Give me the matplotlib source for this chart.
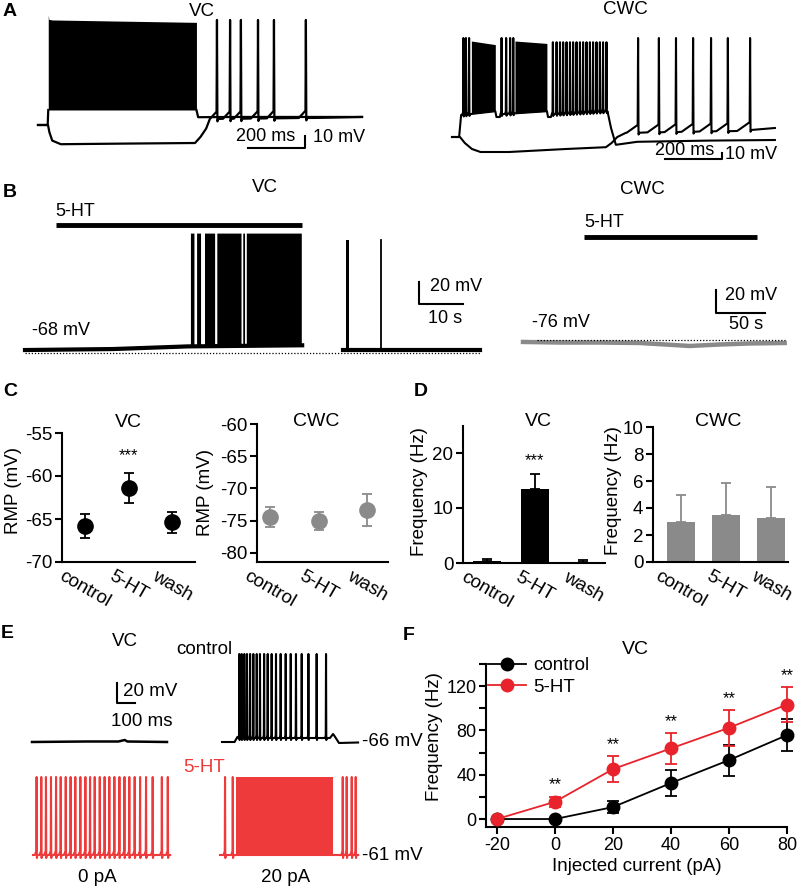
import numpy as np
import matplotlib.pyplot as plt
from matplotlib.lines import Line2D

plt.rcParams['font.family'] = ['Liberation Sans', 'DejaVu Sans']
plt.rcParams['font.size'] = 13
plt.rcParams['axes.linewidth'] = 1.5
plt.rcParams['axes.unicode_minus'] = False

W, H = 800, 889
RED = '#ee3a3a'
RED_F = '#e8232b'
GRAY = '#8a8a8a'

# ---------------- A: step responses (t in ms, v in mV re. rest) ----------------
a_vc_pre_t = [0, 34, 36]
a_vc_pre_v = [0, 0, 12.5]
a_vc_block_t = [36, 38, 50, 300, 556]
a_vc_block_top = [91.7, 88, 87.5, 86.5, 85.5]
a_vc_block_bot = [12.5, 12.5, 12.5, 12.5, 12.5]
a_vc_post_t = [556, 562, 700, 1000, 1137]
a_vc_post_v = [12.5, 6.5, 6.7, 6.7, 6.7]
a_vc_hyp_t = [0, 35, 40, 50, 80, 300, 551, 570, 590, 614, 1000, 1137]
a_vc_hyp_v = [0, 0, -6, -13, -16, -15.5, -15, -10, -3, 5, 6, 6.7]
a_vc_rebound = [628, 674, 712, 772, 828, 940]

a_cwc_dep_t = [0, 25, 32, 152, 156, 168, 172, 333, 337, 347, 352, 545, 558, 575, 650, 900, 1133]
a_cwc_dep_v = [0, 0, 36.7, 43, 33.3, 33.3, 38, 43, 33.3, 33.3, 38, 43, 15, -13, -8, -6, -5]
a_cwc_lead = [40, 49, 60, 174, 190, 204, 215]
a_cwc_burst3 = [354, 367, 379, 390, 402, 414, 425, 437, 449, 460, 472, 484,
                495, 507, 519, 530, 542]
a_cwc_dense = [(68, 152), (221, 333)]
a_cwc_dense_top = [(160, 154), (160, 156)]
a_cwc_hyp_t = [0, 28, 45, 70, 100, 200, 400, 540, 560, 580, 610, 640, 1000, 1133]
a_cwc_hyp_v = [0, 0, -10, -20, -25, -25, -20, -17, -10, 0, 7, 7, 10, 15]
a_cwc_rebound = [653, 726, 786, 846, 909, 968, 1046]

# ---------------- B: 5-HT application (t in s, v in mV) ----------------
b_vc_base1_t = [0, 20, 37, 63]
b_vc_base1_v = [-65.3, -64.4, -62, -61]
b_vc_bursts = [(37.6, 38.4), (39.0, 39.9), (40.8, 43.1), (43.6, 49.1), (49.5, 49.9), (50.3, 62.8)]
b_vc_base2_t = [72.3, 103.4]
b_vc_base2_v = [-65.3, -65.3]
b_vc_wash_burst = (72.9, 73.6)
b_vc_wash_spike = 80.9
b_vc_drug = (7.0, 63.0)

b_cwc_t = [0, 37.8, 78.6, 119, 145, 170, 201, 232, 267]
b_cwc_v = [-77.7, -78.2, -78.2, -78.6, -79.9, -81.2, -79.9, -79, -78.6]
b_cwc_drug = (62.2, 238.8)

# ---------------- C: resting membrane potential ----------------
groups = ['control', '5-HT', 'wash']
c_vc_mean = [-65.8, -61.4, -65.4]
c_vc_err = [1.4, 1.7, 1.2]
c_cwc_mean = [-74.4, -75.0, -73.3]
c_cwc_err = [1.5, 1.4, 2.5]

# ---------------- D: spontaneous firing ----------------
d_vc_mean = [0.3, 13.4, 0.15]
d_vc_err = [0.5, 2.7, 0.35]
d_cwc_mean = [3.0, 3.45, 3.25]
d_cwc_err = [1.95, 2.4, 2.3]

# ---------------- E: example traces (t in ms, v in mV) ----------------
e_ctrl0_t = [0, 300, 480, 515, 530, 750]
e_ctrl0_v = [-66, -65.5, -65.5, -64, -65.5, -66]
e_ctrl20_t = [0, 70, 85, 96, 578, 600, 617, 625, 650, 756]
e_ctrl20_v = [-66, -66, -61, -62, -62, -62, -58, -60, -67, -66.5]
e_ctrl20_spikes = [96, 109, 124, 139, 156, 174, 193, 211, 234, 254, 276, 300,
                   326, 354, 382, 411, 443, 480, 526, 578]
e_ht0_spikes = [20, 46, 72, 100, 128, 154, 182, 209, 235, 263, 291, 317, 343,
                371, 398, 424, 452, 480, 508, 535, 565, 595, 628, 665, 716, 749]
e_ht20_spikes = [28, 71, 682, 704, 732, 754]
e_ht20_dense = (89, 630)

# ---------------- F: f-I curve ----------------
f_current = [-20, 0, 20, 40, 60, 80]
f_ctrl = [0, 0, 10.8, 32.5, 53.2, 75.8]
f_ctrl_err = [0, 0, 5.5, 12, 14, 14.5]
f_ht = [0, 15.6, 45.1, 63.8, 82.4, 103.4]
f_ht_err = [0, 4.5, 11.7, 14, 16, 16]

fig = plt.figure(figsize=(W / 100, H / 100), dpi=100)


def ftext(x, y, s, **kw):
    kw.setdefault('ha', 'center')
    kw.setdefault('va', 'center')
    return fig.text(x / W, 1 - y / H, s, **kw)


def px_axes(x0, y0, x1, y1):
    return fig.add_axes([x0 / W, 1 - y1 / H, (x1 - x0) / W, (y1 - y0) / H])


def trace_axes(box, anchor, scale):
    """axes in physical units; anchor pixel (px, py) sits at (t0, v0)"""
    x0, y0, x1, y1 = box
    px, py, t0, v0 = anchor
    sx, sy = scale
    ax = px_axes(x0, y0, x1, y1)
    ax.set_xlim(t0 - (px - x0) * sx, t0 + (x1 - px) * sx)
    ax.set_ylim(v0 - (y1 - py) * sy, v0 + (py - y0) * sy)
    ax.axis('off')
    return ax


def add_spikes(t_nodes, v_nodes, times, peak, ramp=0.0, ahp=0.0, rise=5.0, width=1.0):
    t_nodes = np.asarray(t_nodes, float)
    v_nodes = np.asarray(v_nodes, float)
    peaks = np.broadcast_to(np.asarray(peak, float), (len(times),))
    pts, windows = [], []
    for ts, pk in zip(times, peaks):
        vb = np.interp(ts, t_nodes, v_nodes)
        pts += [(ts - rise, vb), (ts - width, vb + ramp), (ts, pk),
                (ts + width, vb + ahp), (ts + 3 * width, vb)]
        windows.append((ts - rise, ts + 3 * width))
    keep = [(t, v) for t, v in zip(t_nodes, v_nodes)
            if not any(a <= t <= b for a, b in windows)]
    pts = sorted(pts + keep)
    t, v = zip(*pts)
    return np.array(t), np.array(v)


def style(ax, fs=13.5):
    ax.spines['top'].set_visible(False)
    ax.spines['right'].set_visible(False)
    ax.tick_params(width=1.5, length=5, labelsize=fs, pad=2)


# ======================= A =======================
ftext(3, 12, 'A', ha='left', fontweight='bold', fontsize=14)
ftext(202, 12, 'VC', fontsize=13.5)
ftext(625, 10, 'CWC', fontsize=13.5)

ax = trace_axes((36, 8, 368, 152), (38, 125, 0, 0), (3.509, 0.833))
ax.plot(a_vc_pre_t, a_vc_pre_v, 'k', lw=1.6)
ax.fill_between(a_vc_block_t, a_vc_block_bot, a_vc_block_top, color='k', lw=0)
ax.plot(a_vc_post_t, a_vc_post_v, 'k', lw=1.6)
t, v = add_spikes(a_vc_hyp_t, a_vc_hyp_v, a_vc_rebound, 87.5, ramp=6, ahp=-2, rise=25, width=1.5)
ax.plot(t, v, 'k', lw=1.6)
ax.plot([737, 937, 937], [-19.2, -19.2, -9.2], 'k', lw=1.5)
ax.text(797, -9.7, '200 ms', ha='center', va='center', fontsize=13)
ax.text(965, -10, '10 mV', ha='left', va='center', fontsize=13)

ax = trace_axes((448, 25, 792, 172), (452, 137, 0, 0), (3.509, 1.667))
t, v = add_spikes(a_cwc_dep_t, a_cwc_dep_v, a_cwc_lead, 165, ramp=4, ahp=-3, rise=4, width=1.2)
t, v = add_spikes(t, v, a_cwc_burst3, 158, ramp=4, ahp=-3, rise=4, width=1.2)
ax.plot(t, v, 'k', lw=1.5)
for (ta, tb), (top_a, top_b) in zip(a_cwc_dense, a_cwc_dense_top):
    bot = np.interp([ta, tb], a_cwc_dep_t, a_cwc_dep_v)
    ax.fill_between([ta, tb], bot, [top_a, top_b], color='k', lw=0)
t, v = add_spikes(a_cwc_hyp_t, a_cwc_hyp_v, a_cwc_rebound, 165, ramp=13, ahp=-3, rise=40, width=1.5)
ax.plot(t, v, 'k', lw=1.5)
ax.plot([747, 947, 947], [-36.7, -36.7, -26.7], 'k', lw=1.5)
ax.text(818, -23.3, '200 ms', ha='center', va='center', fontsize=13)
ax.text(958, -30, '10 mV', ha='left', va='center', fontsize=13)

# ======================= B =======================
ftext(3, 193, 'B', ha='left', fontweight='bold', fontsize=14)
ftext(265, 188, 'VC', fontsize=13.5)
ftext(642, 189, 'CWC', fontsize=13.5)

ax = trace_axes((22, 205, 488, 362), (25, 353, 0, -68), (0.2273, 0.909))
ax.plot(b_vc_drug, [48.4, 48.4], 'k', lw=3.5, solid_capstyle='butt')
ax.text(b_vc_drug[0], 60.2, '5-HT', ha='left', va='center', fontsize=13)
ax.plot([0, 103.4], [-68, -68], color='k', ls=(0, (1, 1.5)), lw=0.9)
ax.plot(b_vc_base1_t, b_vc_base1_v, 'k', lw=3)
for ta, tb in b_vc_bursts:
    bot = np.interp([ta, tb], b_vc_base1_t, b_vc_base1_v)
    ax.fill_between([ta, tb], bot, [41, 41], color='k', lw=0)
ax.plot(b_vc_base2_t, b_vc_base2_v, 'k', lw=3)
ax.fill_between(b_vc_wash_burst, [-65.3, -65.3], [34.7, 34.7], color='k', lw=0)
ax.plot([b_vc_wash_spike] * 2, [-65.3, 34.7], 'k', lw=1.3)
ax.plot([89.5, 89.5, 99.5], [-3.5, -23.5, -23.5], 'k', lw=1.5)
ax.text(92, -8, '20 mV', ha='left', va='center', fontsize=13)
ax.text(95.5, -36.2, '10 s', ha='center', va='center', fontsize=13)
ax.text(1.6, -47.1, '-68 mV', ha='left', va='center', fontsize=13)

ax = trace_axes((518, 205, 792, 362), (523, 340, 0, -76), (1.0204, 0.8696))
ax.plot(b_cwc_drug, [13.6, 13.6], 'k', lw=3.5, solid_capstyle='butt')
ax.text(b_cwc_drug[0], 26.6, '5-HT', ha='left', va='center', fontsize=13)
ax.plot(b_cwc_t, b_cwc_v, color=GRAY, lw=3.2)
ax.plot([14.3, 267], [-76, -76], color='k', ls=(0, (1, 1.5)), lw=0.9)
ax.plot([197, 197, 247], [-32.5, -52.5, -52.5], 'k', lw=1.5)
ax.text(206, -37.7, '20 mV', ha='left', va='center', fontsize=13)
ax.text(227.6, -62.1, '50 s', ha='center', va='center', fontsize=13)
ax.text(9.2, -61.2, '-76 mV', ha='left', va='center', fontsize=13)

# ======================= C =======================
ftext(3, 391, 'C', ha='left', fontweight='bold', fontsize=14)
x = np.arange(3)

ax = px_axes(62, 433, 195, 562)
style(ax)
ax.errorbar(x, c_vc_mean, yerr=c_vc_err, fmt='o', color='k', ms=11,
            capsize=3.6, elinewidth=1.3, capthick=1.3, clip_on=False)
ax.text(1, c_vc_mean[1] + c_vc_err[1] + 1.2, '***', ha='center', va='bottom', fontsize=12)
ax.set_ylim(-70, -55)
ax.set_xlim(-0.52, 2.52)
ax.set_yticks([-70, -65, -60, -55])
ax.set_xticks(x)
ax.set_xticklabels(groups, rotation=-30, ha='center', va='top')
ax.tick_params(axis='x', length=0, pad=4)
ax.set_title('VC', fontsize=14, pad=4)
ftext(14, 490, 'RMP (mV)', rotation=90, fontsize=13.5)

ax = px_axes(257, 424, 388, 562)
style(ax)
ax.errorbar(x, c_cwc_mean, yerr=c_cwc_err, fmt='o', color=GRAY, ms=11,
            capsize=3.6, elinewidth=1.3, capthick=1.3, clip_on=False)
ax.set_ylim(-81.4, -60)
ax.set_xlim(-0.27, 2.43)
ax.set_yticks([-80, -75, -70, -65, -60])
ax.set_xticks(x)
ax.set_xticklabels(groups, rotation=-30, ha='center', va='top')
ax.tick_params(axis='x', length=0, pad=4)
ftext(316, 422, 'CWC', fontsize=14)
ftext(206, 493, 'RMP (mV)', rotation=90, fontsize=13.5)

# ======================= D =======================
ftext(414, 391, 'D', ha='left', fontweight='bold', fontsize=14)

ax = px_axes(463, 425.5, 605, 563)
style(ax)
ax.bar(x, d_vc_mean, width=0.58, color='k')
ax.errorbar(x, d_vc_mean, yerr=[[0, 0, 0], d_vc_err], fmt='none', ecolor='k',
            capsize=3.6, elinewidth=1.3, capthick=1.3)
ax.text(1, d_vc_mean[1] + d_vc_err[1] + 1.2, '***', ha='center', va='bottom', fontsize=12)
ax.set_ylim(0, 25)
ax.set_xlim(-0.5, 2.46)
ax.set_yticks([0, 10, 20])
ax.set_xticks(x)
ax.set_xticklabels(groups, rotation=-30, ha='center', va='top')
ax.tick_params(axis='x', length=0, pad=4)
ftext(538, 422, 'VC', fontsize=14)
ftext(420, 492, 'Frequency (Hz)', rotation=90, fontsize=13.5)

ax = px_axes(653, 427, 788, 562)
style(ax)
ax.bar(x, d_cwc_mean, width=0.62, color=GRAY)
ax.errorbar(x, d_cwc_mean, yerr=[[0, 0, 0], d_cwc_err], fmt='none', ecolor=GRAY,
            capsize=3.6, elinewidth=1.3, capthick=1.3)
ax.set_ylim(0, 10)
ax.set_xlim(-0.62, 2.38)
ax.set_yticks([0, 2, 4, 6, 8, 10])
ax.set_xticks(x)
ax.set_xticklabels(groups, rotation=-30, ha='center', va='top')
ax.tick_params(axis='x', length=0, pad=4)
ftext(718, 422, 'CWC', fontsize=14)
ftext(614, 491, 'Frequency (Hz)', rotation=90, fontsize=13.5)

# ======================= E =======================
ftext(1, 634, 'E', ha='left', fontweight='bold', fontsize=14)
ftext(125, 642, 'VC', fontsize=13.5)
ftext(232, 649, 'control', ha='right', fontsize=13.5)
ftext(204, 768, '5-HT', color=RED, fontsize=13.5)
ftext(362, 742, '-66 mV', ha='left', fontsize=13.5)
ftext(362, 855, '-61 mV', ha='left', fontsize=13.5)
ftext(97, 878, '0 pA', fontsize=13.5)
ftext(286, 878, '20 pA', fontsize=13.5)

ax = trace_axes((28, 640, 178, 760), (32, 742, 0, -66), (5.556, 1.0))
ax.plot(e_ctrl0_t, e_ctrl0_v, 'k', lw=1.8)
ax.plot([472, 472, 572], [-7, -27, -27], 'k', lw=1.5)
ax.text(506, -15, '20 mV', ha='left', va='center', fontsize=13.5)
ax.text(611, -46, '100 ms', ha='center', va='center', fontsize=13.5)

ax = trace_axes((218, 640, 360, 760), (222, 742, 0, -66), (5.556, 1.0))
t, v = add_spikes(e_ctrl20_t, e_ctrl20_v, e_ctrl20_spikes, 22, ramp=3, ahp=-2, rise=5, width=1.5)
ax.plot(t, v, 'k', lw=1.5)

ax = trace_axes((28, 765, 178, 870), (33, 855, 0, -61), (5.556, 1.0))
t, v = add_spikes([0, 762], [-61, -61], e_ht0_spikes, 17, ramp=4, ahp=-3, rise=10, width=1.5)
ax.plot(t, v, color=RED, lw=1.5)

ax = trace_axes((216, 765, 370, 870), (220, 855, 0, -61), (5.556, 1.0))
t, v = add_spikes([0, 768], [-61, -61], e_ht20_spikes, 17, ramp=4, ahp=-3, rise=8, width=1.5)
ax.plot(t, v, color=RED, lw=1.5)
ax.fill_between(e_ht20_dense, [-62, -62], [17, 17], color=RED, lw=0)

# ======================= F =======================
ftext(403, 635, 'F', ha='left', fontweight='bold', fontsize=14)
ftext(635, 649, 'VC', fontsize=14)

ax = px_axes(486, 664, 787, 827)
style(ax, fs=13)
ax.errorbar(f_current, f_ctrl, yerr=f_ctrl_err, fmt='-o', color='k', ms=9, lw=1.3,
            capsize=4, elinewidth=1.3, capthick=1.3, clip_on=False, zorder=3)
ax.errorbar(f_current, f_ht, yerr=f_ht_err, fmt='-o', color=RED_F, ms=9, lw=1.3,
            capsize=4, elinewidth=1.3, capthick=1.3, clip_on=False, zorder=4)
for xi, m, e in zip(f_current[1:], f_ht[1:], f_ht_err[1:]):
    ax.annotate('**', (xi, m + e), xytext=(0, 3), textcoords='offset points',
                ha='center', va='bottom', fontsize=12)
ax.set_xlim(-23.8, 80)
ax.set_ylim(-7.2, 140)
ax.set_xticks(f_current)
ax.set_yticks([0, 40, 80, 120])
ax.set_yticks([20, 60, 100, 140], minor=True)
ax.tick_params(which='minor', axis='y', width=1.5, length=5)
ax.set_xlabel('Injected current (pA)', fontsize=13.5, labelpad=3)
ftext(435, 737, 'Frequency (Hz)', rotation=90, fontsize=13.5)
handles = [Line2D([], [], color='k', marker='o', ms=9, lw=1.3),
           Line2D([], [], color=RED_F, marker='o', ms=9, lw=1.3)]
ax.legend(handles, ['control', '5-HT'], loc='upper left',
          bbox_to_anchor=(488 / W, 1 - 657 / H), bbox_transform=fig.transFigure,
          frameon=False, borderaxespad=0, borderpad=0, handlelength=2.0, handletextpad=0.4,
          labelspacing=0.25, fontsize=13.5)

fig.savefig('out.png', dpi=100)
